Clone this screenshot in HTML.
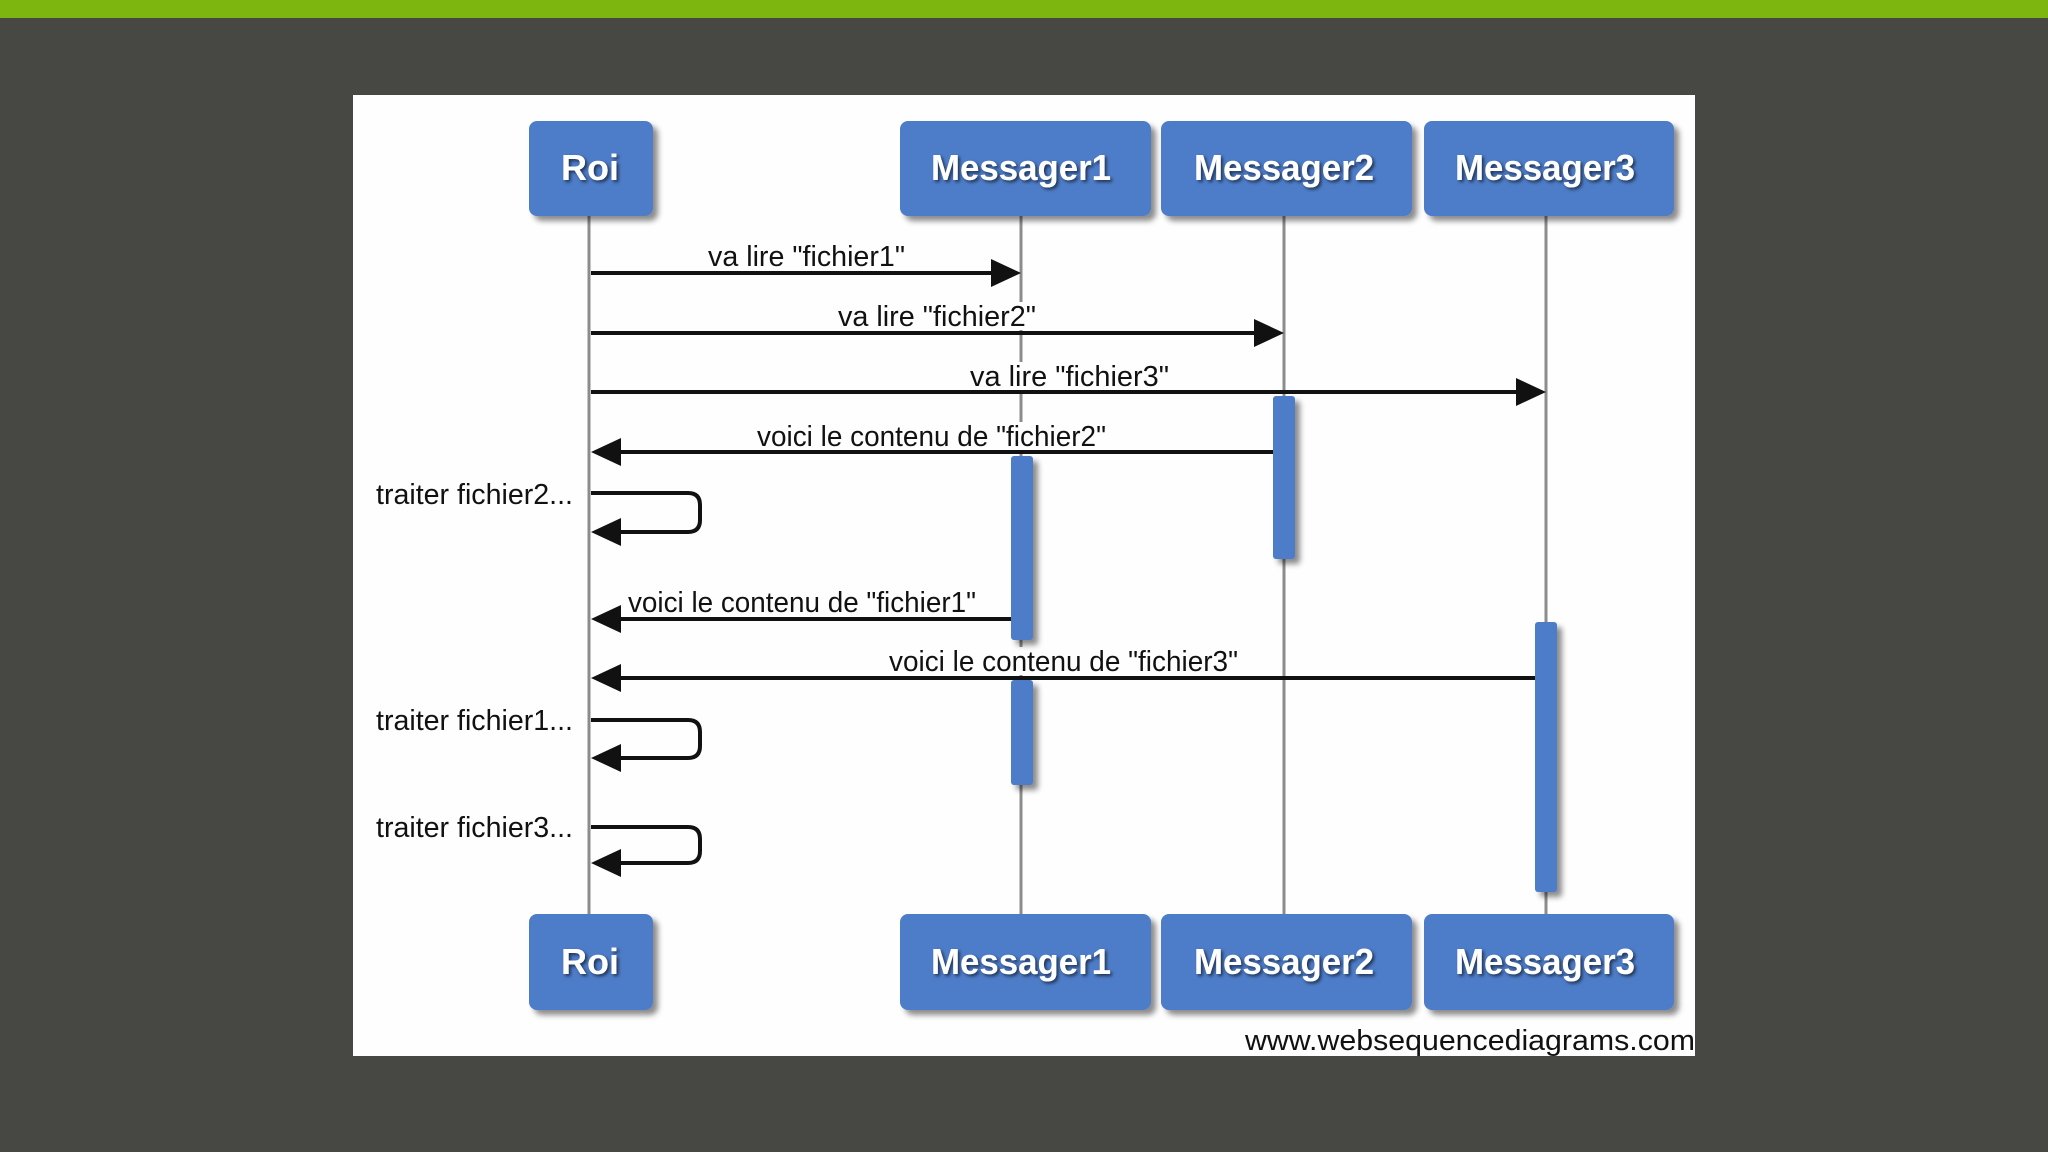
<!DOCTYPE html>
<html><head><meta charset="utf-8"><style>
html,body{margin:0;padding:0;width:2048px;height:1152px;overflow:hidden;background:#474743;}
svg{display:block}
text{font-family:"Liberation Sans",sans-serif;}
.lbl{font-size:29px;fill:#111;}
.box{font-size:36px;font-weight:bold;fill:#fff;}
</style></head><body>
<svg width="2048" height="1152" viewBox="0 0 2048 1152" xmlns="http://www.w3.org/2000/svg">
<defs>
<filter id="sh" x="-20%" y="-20%" width="150%" height="150%"><feDropShadow dx="5" dy="5" stdDeviation="3" flood-color="#000" flood-opacity="0.45"/></filter>
<filter id="ts" x="-10%" y="-20%" width="120%" height="150%"><feDropShadow dx="2" dy="2" stdDeviation="1.5" flood-color="#000" flood-opacity="0.6"/></filter>
</defs>
<rect x="0" y="0" width="2048" height="18" fill="#7cb60f"/>
<rect x="353" y="95" width="1342" height="961" fill="#fefefe"/>
<g stroke="#8c8c8c" stroke-width="3">
<line x1="589" y1="216" x2="589" y2="914"/>
<line x1="1021" y1="216" x2="1021" y2="914"/>
<line x1="1284" y1="216" x2="1284" y2="914"/>
<line x1="1546" y1="216" x2="1546" y2="914"/>
</g>
<!-- label backgrounds -->
<g fill="#fefefe">
<rect x="838" y="302" width="198" height="28"/>
<rect x="970" y="362" width="199" height="28"/>
<rect x="757" y="422" width="349" height="28"/>
<rect x="889" y="647" width="349" height="28"/>
</g>
<g fill="#4e7bc8" filter="url(#sh)">
<rect x="1273" y="396" width="22" height="163" rx="3"/>
<rect x="1011" y="456" width="22" height="184" rx="3"/>
<rect x="1011" y="680" width="22" height="105" rx="3"/>
<rect x="1535" y="622" width="22" height="270" rx="3"/>
</g>
<g fill="#4e7bc8" filter="url(#sh)">
<rect x="529" y="121" width="124" height="95" rx="8"/>
<rect x="900" y="121" width="251" height="95" rx="8"/>
<rect x="1161" y="121" width="251" height="95" rx="8"/>
<rect x="1424" y="121" width="250" height="95" rx="8"/>
<rect x="529" y="914" width="124" height="96" rx="8"/>
<rect x="900" y="914" width="251" height="96" rx="8"/>
<rect x="1161" y="914" width="251" height="96" rx="8"/>
<rect x="1424" y="914" width="250" height="96" rx="8"/>
</g>
<g class="box" text-anchor="middle" filter="url(#ts)">
<text x="590" y="180" class="box">Roi</text>
<text x="1021" y="180" class="box" textLength="180" lengthAdjust="spacingAndGlyphs">Messager1</text>
<text x="1284" y="180" class="box" textLength="180" lengthAdjust="spacingAndGlyphs">Messager2</text>
<text x="1545" y="180" class="box" textLength="180" lengthAdjust="spacingAndGlyphs">Messager3</text>
<text x="590" y="974" class="box">Roi</text>
<text x="1021" y="974" class="box" textLength="180" lengthAdjust="spacingAndGlyphs">Messager1</text>
<text x="1284" y="974" class="box" textLength="180" lengthAdjust="spacingAndGlyphs">Messager2</text>
<text x="1545" y="974" class="box" textLength="180" lengthAdjust="spacingAndGlyphs">Messager3</text>
</g>
<g stroke="#111" stroke-width="4" fill="none">
<line x1="591" y1="273" x2="995" y2="273"/>
<line x1="591" y1="333" x2="1258" y2="333"/>
<line x1="591" y1="392" x2="1520" y2="392"/>
<line x1="615" y1="452" x2="1273" y2="452"/>
<line x1="615" y1="619" x2="1011" y2="619"/>
<line x1="615" y1="678" x2="1535" y2="678"/>
<path d="M591 493 H688 Q700 493 700 505 V520 Q700 532 688 532 H615"/>
<path d="M591 720 H688 Q700 720 700 732 V746 Q700 758 688 758 H615"/>
<path d="M591 827 H688 Q700 827 700 839 V851 Q700 863 688 863 H615"/>
</g>
<g fill="#111">
<polygon points="1021,273 991,259 991,287"/>
<polygon points="1284,333 1254,319 1254,347"/>
<polygon points="1546,392 1516,378 1516,406"/>
<polygon points="591,452 621,438 621,466"/>
<polygon points="591,532 621,518 621,546"/>
<polygon points="591,619 621,605 621,633"/>
<polygon points="591,678 621,664 621,692"/>
<polygon points="591,758 621,744 621,772"/>
<polygon points="591,863 621,849 621,877"/>
</g>
<g class="lbl">
<text x="708" y="266" textLength="197" lengthAdjust="spacingAndGlyphs">va lire "fichier1"</text>
<text x="838" y="326" textLength="198" lengthAdjust="spacingAndGlyphs">va lire "fichier2"</text>
<text x="970" y="386" textLength="199" lengthAdjust="spacingAndGlyphs">va lire "fichier3"</text>
<text x="757" y="446" textLength="349" lengthAdjust="spacingAndGlyphs">voici le contenu de "fichier2"</text>
<text x="376" y="504" textLength="197" lengthAdjust="spacingAndGlyphs">traiter fichier2...</text>
<text x="628" y="612" textLength="348" lengthAdjust="spacingAndGlyphs">voici le contenu de "fichier1"</text>
<text x="889" y="671" textLength="349" lengthAdjust="spacingAndGlyphs">voici le contenu de "fichier3"</text>
<text x="376" y="730" textLength="197" lengthAdjust="spacingAndGlyphs">traiter fichier1...</text>
<text x="376" y="837" textLength="197" lengthAdjust="spacingAndGlyphs">traiter fichier3...</text>
<text x="1245" y="1050" textLength="450" lengthAdjust="spacingAndGlyphs">www.websequencediagrams.com</text>
</g>
</svg>
</body></html>
